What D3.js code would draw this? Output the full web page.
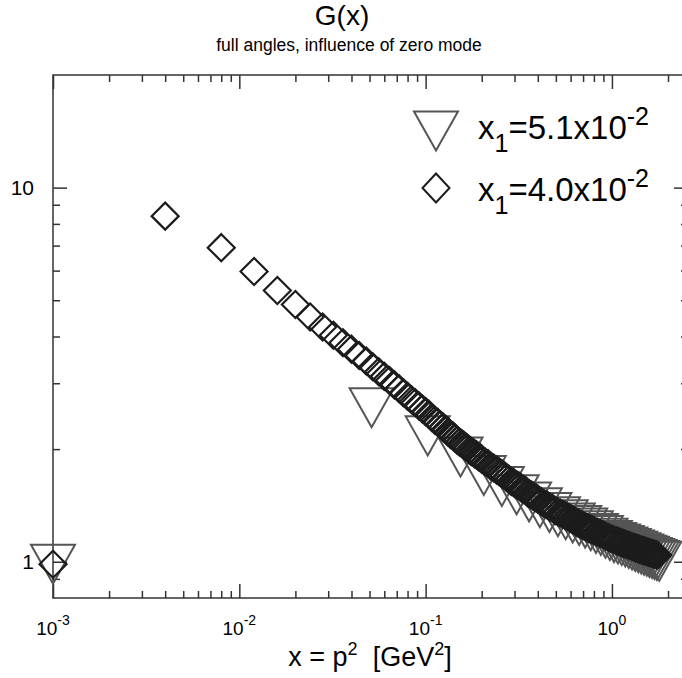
<!DOCTYPE html>
<html><head><meta charset="utf-8">
<script src="https://cdn.jsdelivr.net/npm/d3@7"></script>
<style>
body{margin:0;background:#fff}
svg{display:block}
text{font-family:"Liberation Sans", Arial, Helvetica, sans-serif; fill:#000}
</style>
</head><body>
<svg id="c" width="682" height="678"></svg>
<script>
// ---------------- data ----------------
// series 1: x1 = 5.1e-2 (down triangles)
const triX = [0.001,0.0513,0.1026,0.1539,0.2052,0.2565,0.3078,0.3591,0.4104,0.4617,0.513,
  0.5643,0.6156,0.6669,0.7182,0.7695,0.8208,0.8721,0.9234,0.9747,1.026,1.0773,1.1286,
  1.1799,1.2312,1.2825,1.3338,1.3851,1.4364,1.4877,1.539,1.5903,1.6416,1.6929,1.7442,1.7955];
const triY = [0.985,2.58,2.17,1.905,1.70,1.59,1.51,1.445,1.395,1.355,1.32,
  1.295,1.27,1.25,1.23,1.21,1.19,1.175,1.155,1.14,1.125,1.115,1.105,
  1.095,1.085,1.075,1.066,1.057,1.049,1.041,1.034,1.027,1.02,1.014,1.008,1.003];

// series 2: x1 = 4.0e-2 (diamonds)
const diaX = [0.001,
  0.004,0.008,0.012,0.016,0.020,0.024,0.028,0.032,0.036,0.040,
  0.044,0.048,0.052,0.056,0.060,0.064,0.068,0.072,0.076,0.080,
  0.084,0.088,0.092,0.096,0.100,0.104,0.108,0.112,0.116,0.120,
  0.124,0.128,0.132,0.136,0.140,0.144,0.148,0.152,0.156,0.160,
  0.164,0.168,0.172,0.176,0.180,0.184,0.188,0.192,0.196,0.200,
  0.208,0.216,0.224,0.232,0.240,0.248,0.256,0.264,0.272,0.280,
  0.288,0.296,0.304,0.312,0.320,0.328,0.336,0.344,0.352,0.360,
  0.368,0.376,0.384,0.392,0.400,
  0.416,0.432,0.448,0.464,0.480,0.496,0.512,0.528,0.544,0.560,
  0.576,0.592,0.608,0.624,0.640,0.656,0.672,0.688,0.704,0.720,
  0.736,0.752,0.768,0.784,0.800,
  0.832,0.864,0.896,0.928,0.960,0.992,1.024,1.056,1.088,1.120,
  1.152,1.184,1.216,1.248,1.280,1.312,1.344,1.376,1.408,1.440,
  1.472,1.504,1.536,1.568,1.600,1.632,1.664,1.696,1.728,1.760];
const diaY = [0.985,
  8.39,6.91,5.97,5.31,4.87,4.51,4.24,4.03,3.85,3.70,
  3.56,3.44,3.32,3.22,3.13,3.05,2.97,2.90,2.83,2.77,
  2.71,2.66,2.61,2.56,2.52,2.48,2.43,2.39,2.36,2.32,
  2.29,2.26,2.22,2.19,2.17,2.14,2.11,2.09,2.07,2.05,
  2.03,2.01,1.99,1.97,1.96,1.94,1.93,1.91,1.90,1.88,
  1.85,1.83,1.80,1.78,1.76,1.74,1.72,1.70,1.68,1.66,
  1.64,1.63,1.61,1.60,1.59,1.57,1.56,1.55,1.53,1.52,
  1.51,1.50,1.49,1.48,1.47,
  1.45,1.43,1.42,1.40,1.39,1.37,1.36,1.35,1.34,1.33,
  1.32,1.31,1.30,1.29,1.28,1.27,1.264,1.256,1.248,1.242,
  1.235,1.229,1.223,1.217,1.212,
  1.200,1.190,1.180,1.170,1.161,1.152,1.145,1.138,1.132,1.126,
  1.120,1.114,1.109,1.103,1.098,1.093,1.088,1.084,1.079,1.075,
  1.071,1.068,1.064,1.060,1.057,1.054,1.050,1.047,1.044,1.041];

const legendMain = ["=5.1x10", "=4.0x10"];
const legendSup = ["-2", "-2"];

const xMajorTicks = [0.001, 0.01, 0.1, 1];
const xMajorExp = ["-3", "-2", "-1", "0"];
const xMinorTicks = [0.002,0.003,0.004,0.005,0.006,0.007,0.008,0.009,
  0.02,0.03,0.04,0.05,0.06,0.07,0.08,0.09,
  0.2,0.3,0.4,0.5,0.6,0.7,0.8,0.9, 2];
const yMajorTicks = [1, 10];
const yMajorLabels = ["1", "10"];
const yMinorTicks = [0.9, 2, 3, 4, 5, 6, 7, 8, 9];

const titleText = "G(x)";
const subtitleText = "full angles, influence of zero mode";

// ---------------- layout ----------------
const L = 53, R = 688, T = 75, B = 598;
const x = d3.scaleLog().domain([1e-3, 2.56]).range([L, R]);
const y = d3.scaleLog().domain([0.8, 20]).range([B, T]);

const svg = d3.select("#c");
const axisColor = "#333";
const triColor = "#555";
const diaColor = "#1c1c1c";

// frame
svg.append("rect").attr("x", L).attr("y", T).attr("width", R - L).attr("height", B - T)
  .attr("fill", "none").attr("stroke", axisColor).attr("stroke-width", 1.5);

function drawAxis(gen, tx, ty) {
  const g = svg.append("g").attr("transform", `translate(${tx},${ty})`).call(gen);
  g.select(".domain").remove();
  g.selectAll(".tick line").attr("stroke", axisColor).attr("stroke-width", 1.5);
  g.selectAll(".tick text").remove();
  return g;
}
drawAxis(d3.axisBottom(x).tickValues(xMajorTicks).tickSize(-14).tickFormat(""), 0, B);
drawAxis(d3.axisBottom(x).tickValues(xMinorTicks).tickSize(-7).tickFormat(""), 0, B);
drawAxis(d3.axisTop(x).tickValues(xMajorTicks).tickSize(-14).tickFormat(""), 0, T);
drawAxis(d3.axisTop(x).tickValues(xMinorTicks).tickSize(-7).tickFormat(""), 0, T);
drawAxis(d3.axisLeft(y).tickValues(yMajorTicks).tickSize(-14).tickFormat(""), L, 0);
drawAxis(d3.axisLeft(y).tickValues(yMinorTicks).tickSize(-7).tickFormat(""), L, 0);
drawAxis(d3.axisRight(y).tickValues(yMajorTicks).tickSize(-14).tickFormat(""), R, 0);
drawAxis(d3.axisRight(y).tickValues(yMinorTicks).tickSize(-7).tickFormat(""), R, 0);

// x tick labels 10^n
xMajorTicks.forEach((v, i) => {
  const t = svg.append("text").attr("x", x(v)).attr("y", 635).attr("text-anchor", "middle")
    .style("font-size", "19px");
  t.append("tspan").text("10");
  t.append("tspan").attr("dy", -10).style("font-size", "14px").text(xMajorExp[i]);
});
// y tick labels
yMajorTicks.forEach((v, i) => {
  svg.append("text").attr("x", 34).attr("y", y(v) + 7.5).attr("text-anchor", "end")
    .style("font-size", "21px").text(yMajorLabels[i]);
});

// titles
svg.append("text").attr("x", 342).attr("y", 25).attr("text-anchor", "middle")
  .style("font-size", "28px").text(titleText);
svg.append("text").attr("x", 349).attr("y", 51).attr("text-anchor", "middle")
  .style("font-size", "17.5px").text(subtitleText);

// x axis title
const xt = svg.append("text").attr("x", 370).attr("y", 666).attr("text-anchor", "middle")
  .style("font-size", "27px");
xt.append("tspan").text("x = p");
xt.append("tspan").attr("dy", -11).style("font-size", "18px").text("2");
xt.append("tspan").attr("dy", 11).text("\u00a0\u00a0[GeV");
xt.append("tspan").attr("dy", -11).style("font-size", "18px").text("2");
xt.append("tspan").attr("dy", 11).text("]");

// marker shapes
const triPath = "M-22,-19.5L22,-19.5L0,19.5Z";
const diaPath = "M0,-13.5L13.5,0L0,13.5L-13.5,0Z";

svg.append("g").selectAll("path").data(d3.zip(triX, triY)).join("path")
  .attr("transform", d => `translate(${x(d[0])},${y(d[1])})`)
  .attr("d", triPath).attr("fill", "none").attr("stroke", triColor).attr("stroke-width", 2);

svg.append("g").selectAll("path").data(d3.zip(diaX, diaY)).join("path")
  .attr("transform", d => `translate(${x(d[0])},${y(d[1])})`)
  .attr("d", diaPath).attr("fill", "none").attr("stroke", diaColor).attr("stroke-width", 2.2);

// legend
const legendRows = [{path: triPath, color: triColor, my: 131, base: 139},
                    {path: "M0,-14.5L13.5,0L0,14.5L-13.5,0Z", color: diaColor, my: 188, base: 201}];
legendRows.forEach((r, i) => {
  svg.append("path").attr("transform", `translate(436,${r.my})`).attr("d", r.path)
    .attr("fill", "none").attr("stroke", r.color).attr("stroke-width", 2);
  const t = svg.append("text").attr("x", 478).attr("y", r.base).style("font-size", "33px");
  t.append("tspan").text("x");
  t.append("tspan").attr("dy", 13).style("font-size", "25px").text("1");
  t.append("tspan").attr("dy", -13).text(legendMain[i]);
  t.append("tspan").attr("dy", -14).style("font-size", "25px").text(legendSup[i]);
});
</script>
</body></html>
